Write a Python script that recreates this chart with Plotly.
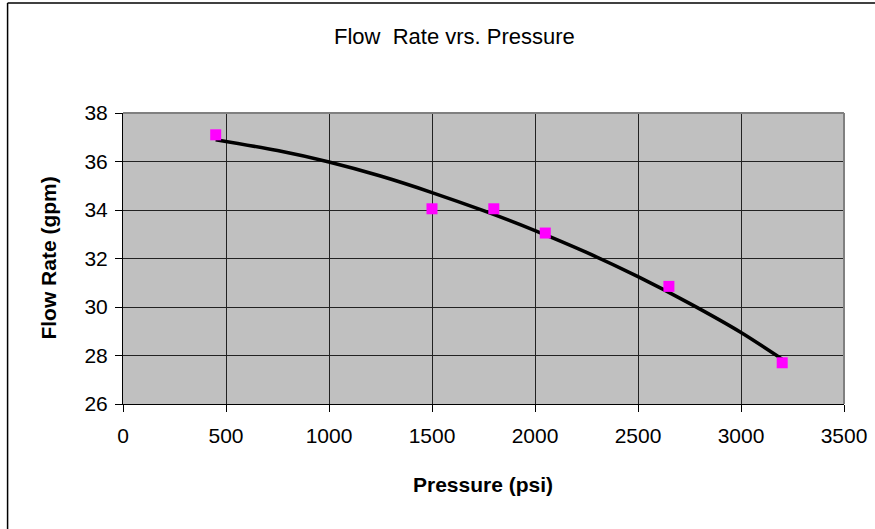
import plotly.graph_objects as go

# Measured data points
pressure = [450, 1500, 1800, 2050, 2650, 3200]
flow = [37.1, 34.05, 34.05, 33.05, 30.85, 27.7]

# Trend line
trend_x = [450, 750, 1000, 1250, 1500, 1750, 2000, 2250, 2500, 2750, 3000, 3200]
trend_y = [36.9, 36.45, 35.98, 35.4, 34.72, 33.97, 33.15, 32.25, 31.25, 30.15, 28.95, 27.85]

x_ticks = [0, 500, 1000, 1500, 2000, 2500, 3000, 3500]
y_ticks = [26, 28, 30, 32, 34, 36, 38]

W, H = 875, 529
L, R, T, B = 122.5, 31, 113, 125
pw, ph = W - L - R, H - T - B

def px(xp):
    return (xp - L) / pw

def py(yp):
    return (H - B - yp) / ph

font = "Liberation Sans, Arial, sans-serif"

fig = go.Figure()
fig.add_trace(go.Scatter(x=trend_x, y=trend_y, mode="lines",
                         line=dict(color="black", width=3.5, shape="spline", smoothing=0.8),
                         showlegend=False, hoverinfo="skip"))
fig.add_trace(go.Scatter(x=pressure, y=flow, mode="markers",
                         marker=dict(symbol="square", size=11, color="#FF00FF"),
                         showlegend=False))

fig.update_layout(
    width=W, height=H,
    margin=dict(l=L, r=R, t=T, b=B, autoexpand=False),
    paper_bgcolor="white",
    plot_bgcolor="#C0C0C0",
    font=dict(family=font, color="black", size=21),
    xaxis=dict(range=[0, 3500], tickvals=x_ticks, ticks="outside", ticklen=7,
               tickcolor="black", showgrid=True, gridcolor="#222222", gridwidth=1,
               showline=True, linecolor="black", linewidth=1, zeroline=False,
               automargin=False, ticklabelstandoff=6,
               tickfont=dict(size=21, family=font), fixedrange=True),
    yaxis=dict(range=[26, 38], tickvals=y_ticks, ticks="outside", ticklen=7,
               tickcolor="black", showgrid=True, gridcolor="#222222", gridwidth=1,
               showline=True, linecolor="black", linewidth=1, zeroline=False,
               automargin=False, ticklabelstandoff=3,
               tickfont=dict(size=21, family=font), fixedrange=True),
    shapes=[
        dict(type="line", xref="paper", yref="paper", x0=0, x1=1, y0=1, y1=1,
             line=dict(color="#808080", width=2)),
        dict(type="line", xref="paper", yref="paper", x0=1, x1=1, y0=0, y1=1,
             line=dict(color="#808080", width=2)),
        dict(type="line", xref="paper", yref="paper",
             x0=px(7), x1=px(7), y0=py(H), y1=py(3),
             line=dict(color="black", width=1.5), layer="below"),
        dict(type="line", xref="paper", yref="paper",
             x0=px(7), x1=px(W), y0=py(3), y1=py(3),
             line=dict(color="black", width=1.5), layer="below"),
    ],
    annotations=[
        dict(text="Flow  Rate vrs. Pressure", xref="paper", yref="paper",
             x=px(454), y=py(36), showarrow=False, xanchor="center", yanchor="middle",
             font=dict(size=22, family=font)),
        dict(text="<b>Pressure (psi)</b>", xref="paper", yref="paper",
             x=px(483), y=py(485), showarrow=False, xanchor="center", yanchor="middle",
             font=dict(size=21, family=font)),
        dict(text="<b>Flow Rate (gpm)</b>", xref="paper", yref="paper",
             x=px(47), y=py(258), showarrow=False, xanchor="center", yanchor="middle",
             textangle=-90, font=dict(size=21, family=font)),
    ],
)

fig.write_html(
    "out.html",
    config={"displayModeBar": False},
    post_script=(
        "document.documentElement.style.overflow='hidden';"
        "document.body.style.margin='0';"
        "document.body.style.overflow='hidden';"
    ),
)
